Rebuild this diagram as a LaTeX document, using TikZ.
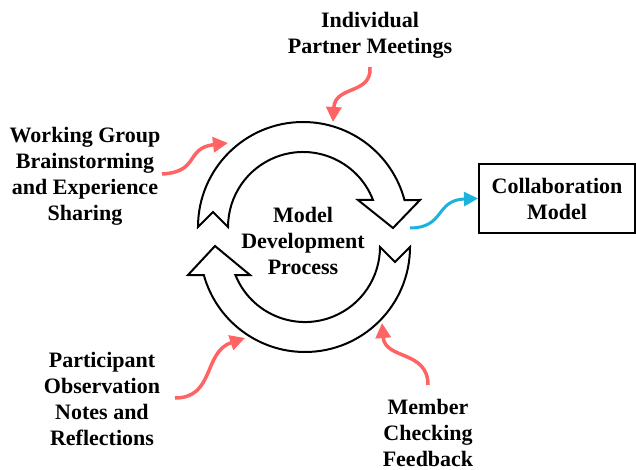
\documentclass[tikz,border=0pt]{standalone}
\usepackage{fontspec}
\setmainfont{Liberation Serif}
\usetikzlibrary{arrows.meta}

\definecolor{feedred}{RGB}{255,99,99}
\definecolor{feedblue}{RGB}{28,178,222}

\tikzset{
  lbl/.style={font=\bfseries\fontsize{22}{26}\selectfont, align=center, inner sep=0pt},
  loopshape/.style={draw=black, line width=2pt, fill=white, line join=miter},
  feed/.style={line width=3.5pt, feedred, -{Triangle[length=15pt,width=15pt]}},
  result/.style={line width=3pt, feedblue, -{Triangle[length=14pt,width=14pt]}}
}

\begin{document}
\begin{tikzpicture}[x=1pt,y=-1pt]
\useasboundingbox (0,0) rectangle (636,470);

% upper half of the cycle
\draw[loopshape] (198,227) arc[start angle=180,end angle=345.1,radius=105]
  -- (420,200) -- (393,228) -- (358,200) -- (373,200)
  arc[start angle=338.9,end angle=180,radius=75] -- (213,212) -- cycle;

% lower half of the cycle
\draw[loopshape] (410,247) arc[start angle=0,end angle=164.5,radius=105]
  -- (188,275) -- (215,246) -- (250,275) -- (235.4,275)
  arc[start angle=158.1,end angle=0,radius=75] -- (395,262) -- cycle;

\node[lbl] (proc) at (303,241) {Model\\Development\\Process};
\node[lbl] (ipm) at (370,35) {Individual\\Partner Meetings};
\node[lbl] (wgb) at (85,176) {Working Group\\Brainstorming\\and Experience\\Sharing};
\node[lbl] (pon) at (102,399) {Participant\\Observation\\Notes and\\Reflections};
\node[lbl] (mcf) at (428,433) {Member\\Checking\\Feedback};
\node[lbl, draw, line width=2pt, minimum width=156pt, minimum height=69pt] (cm) at (557,198.5) {Collaboration\\Model};

% ends of the feed arrows
\coordinate (wgbFrom) at (162,174);
\coordinate (wgbTo) at (228,143);
\coordinate (ipmFrom) at (370,67);
\coordinate (ipmTo) at (333,122);
\coordinate (ponFrom) at (175,398);
\coordinate (ponTo) at (245,338);
\coordinate (mcfFrom) at (428,385);
\coordinate (mcfTo) at (382,323);
\coordinate (procOut) at (410,228);

\draw[feed] (wgbFrom) .. controls (200,172) and (185,148) .. (wgbTo);
\draw[feed] (ipmFrom) .. controls (372,95) and (335,85) .. (ipmTo);
\draw[feed] (ponFrom) .. controls (215,398) and (203,352) .. (ponTo);
\draw[feed] (mcfFrom) .. controls (428,350) and (385,360) .. (mcfTo);
\draw[result] (procOut) .. controls (445,228) and (435,200) .. (cm.west);

\end{tikzpicture}
\end{document}
